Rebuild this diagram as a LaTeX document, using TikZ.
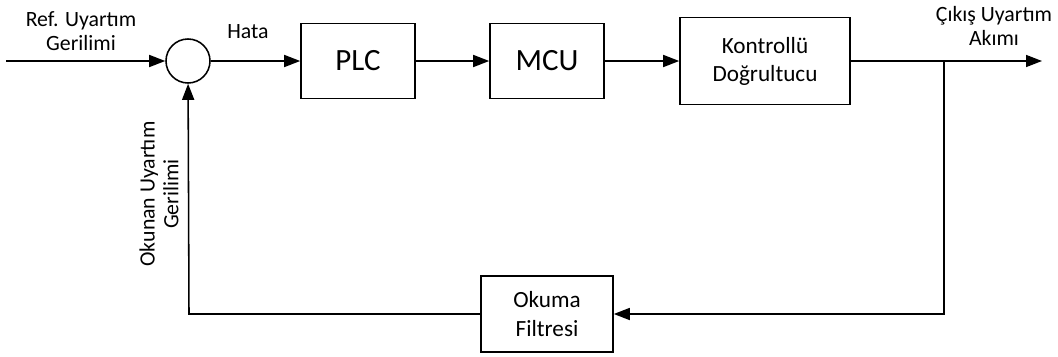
\documentclass[tikz,border=0pt]{standalone}
\usepackage{fontspec}
\setmainfont{Carlito}
\usetikzlibrary{arrows.meta}
\begin{document}
\begin{tikzpicture}[
  x=0.025cm, y=-0.025cm,
  block/.style={rectangle, draw, line width=1.1pt, align=center, inner sep=0pt},
  arr/.style={-{Triangle[length=4mm, width=3mm]}, line width=1.1pt},
  lbl/.style={align=center, font=\fontsize{15.5}{17}\selectfont},
  sumnode/.style={circle, draw, line width=1.1pt, minimum size=1.1cm, inner sep=0pt}
]
  \useasboundingbox (0,0) rectangle (1058,356);

  \node[sumnode] (sum) at (188, 61) {};
  \node[block, minimum width=2.85cm, minimum height=1.875cm,
        font=\fontsize{22}{26}\selectfont] (plc) at (358, 61) {PLC};
  \node[block, minimum width=2.85cm, minimum height=1.875cm,
        font=\fontsize{22}{26}\selectfont] (mcu) at (547, 61) {MCU};
  \node[block, minimum width=4.25cm, minimum height=2.175cm,
        font=\fontsize{16.5}{20}\selectfont] (rect) at (765, 61) {Kontrollü\\Doğrultucu};
  \node[block, minimum width=3.3cm, minimum height=1.9cm,
        font=\fontsize{16.5}{20}\selectfont] (filt) at (547, 314) {Okuma\\Filtresi};

  \coordinate (in) at (6, 61);
  \coordinate (out) at (1042, 61);
  \coordinate (branch) at (944, 61);
  \coordinate (down) at (944, 314);
  \coordinate (corner) at (189, 314);

  % Forward path
  \draw[arr] (in) -- (sum);
  \draw[arr] (sum) -- (plc);
  \draw[arr] (plc) -- (mcu);
  \draw[arr] (mcu) -- (rect);
  \draw[arr] (rect) -- (out);

  % Feedback path
  \draw[arr] (branch) -- (down) -- (filt);
  \draw[arr] (filt) -- (corner) -- (sum);

  % Labels
  \node[lbl] (reflbl) at (81, 31) {Ref. Uyartım\\Gerilimi};
  \node[lbl] (hatalbl) at (248, 32) {Hata};
  \node[lbl] (outlbl) at (994, 26) {Çıkış Uyartım\\Akımı};
  \node[lbl, rotate=90] (fblbl) at (159, 194) {Okunan Uyartım\\Gerilimi};
\end{tikzpicture}
\end{document}
